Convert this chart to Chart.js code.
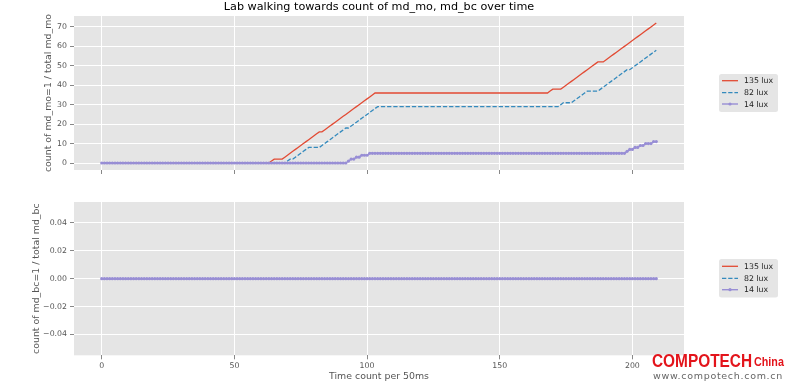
<!DOCTYPE html>
<html><head><meta charset="utf-8">
<script src="https://cdn.jsdelivr.net/npm/chart.js@4.4.0/dist/chart.umd.min.js"></script>
<style>
html,body{margin:0;padding:0;background:#fff;}
#wrap{position:relative;width:791px;height:391px;overflow:hidden;background:#fff;}
canvas{position:absolute;left:0;}
#c1{top:0;}
#c2{top:190px;}
.wm{position:absolute;font-family:'Liberation Sans',sans-serif;font-weight:bold;color:#e3141b;white-space:nowrap;transform-origin:left top;}
.wmA{left:652px;top:350.5px;font-size:18px;transform:scaleX(0.855);}
.wmB{left:754px;top:354.7px;font-size:12.5px;transform:scaleX(0.86);}
.wm2{position:absolute;left:653px;top:370px;font-family:'DejaVu Sans',sans-serif;font-size:9.5px;color:#666;white-space:nowrap;letter-spacing:0.7px;}
</style></head><body>
<div id="wrap">
<canvas id="c1" width="791" height="190"></canvas>
<canvas id="c2" width="791" height="201"></canvas>
<div class="wm wmA">COMPOTECH</div>
<div class="wm wmB">China</div>
<div class="wm2">www.compotech.com.cn</div>
</div>
<script>
// ---------- DATA ----------
const seriesNames = ['135 lux', '82 lux', '14 lux'];
const titleText = 'Lab walking towards count of md_mo, md_bc over time';
const xTitle = 'Time count per 50ms';
const yTitleTop = 'count of md_mo=1 / total md_mo';
const yTitleBottom = 'count of md_bc=1 / total md_bc';

const xTickValues = [0, 50, 100, 150, 200];
const xTickLabels = ['0', '50', '100', '150', '200'];
const yTickValuesTop = [0, 10, 20, 30, 40, 50, 60, 70];
const yTickLabelsTop = ['0', '10', '20', '30', '40', '50', '60', '70'];
const yTickValuesBottom = [-0.04, -0.02, 0, 0.02, 0.04];
const yTickLabelsBottom = ['\u22120.04', '\u22120.02', '0.00', '0.02', '0.04'];

// md_mo counts (top panel), one value per time step 0..209
const mo135 = [
0,0,0,0,0,0,0,0,0,0, 0,0,0,0,0,0,0,0,0,0, 0,0,0,0,0,0,0,0,0,0,
0,0,0,0,0,0,0,0,0,0, 0,0,0,0,0,0,0,0,0,0, 0,0,0,0,0,0,0,0,0,0,
0,0,0,0,
1,2,2,2,2,
3,4,5,6,7,8,9,10,11,12,13,14,15,16,
16,
17,18,19,20,21,22,23,24,25,26,27,28,29,30,31,32,33,34,35,36,
36,36,36,36,36,36,36,36,36,36, 36,36,36,36,36,36,36,36,36,36,
36,36,36,36,36,36,36,36,36,36, 36,36,36,36,36,36,36,36,36,36,
36,36,36,36,36,36,36,36,36,36, 36,36,36,36,36,36,36,36,36,36,
36,36,36,36,36,
37,38,38,38,38,
39,40,41,42,43,44,45,46,47,48,49,50,51,52,
52,52,
53,54,55,56,57,58,59,60,61,62,63,64,65,66,67,68,69,70,71,72
];
const mo82 = [
0,0,0,0,0,0,0,0,0,0, 0,0,0,0,0,0,0,0,0,0, 0,0,0,0,0,0,0,0,0,0,
0,0,0,0,0,0,0,0,0,0, 0,0,0,0,0,0,0,0,0,0, 0,0,0,0,0,0,0,0,0,0,
0,0,0,0,0,0,0,0,0,0,
1,2,2,
3,4,5,6,7,8,
8,8,8,8,
9,10,11,12,13,14,15,16,17,18,
18,
19,20,21,22,23,24,25,26,27,28,29,
29,29,29,29,29,29,29,29,29,29, 29,29,29,29,29,29,29,29,29,29,
29,29,29,29,29,29,29,29,29,29, 29,29,29,29,29,29,29,29,29,29,
29,29,29,29,29,29,29,29,29,29, 29,29,29,29,29,29,29,29,29,29,
29,29,29,29,29,29,29,29,
30,31,
31,31,31,
32,33,34,35,36,37,
37,37,37,37,
38,39,40,41,42,43,44,45,46,47,48,
48,
49,50,51,52,53,54,55,56,57,58
];
const mo14 = [
0,0,0,0,0,0,0,0,0,0, 0,0,0,0,0,0,0,0,0,0, 0,0,0,0,0,0,0,0,0,0,
0,0,0,0,0,0,0,0,0,0, 0,0,0,0,0,0,0,0,0,0, 0,0,0,0,0,0,0,0,0,0,
0,0,0,0,0,0,0,0,0,0, 0,0,0,0,0,0,0,0,0,0, 0,0,0,0,0,0,0,0,0,0,
0,0,0,
1,2,2,3,3,4,4,4,
5,5,5,5,5,5,5,5,5,5, 5,5,5,5,5,5,5,5,5,5, 5,5,5,5,5,5,5,5,5,5,
5,5,5,5,5,5,5,5,5,5, 5,5,5,5,5,5,5,5,5,5, 5,5,5,5,5,5,5,5,5,5,
5,5,5,5,5,5,5,5,5,5, 5,5,5,5,5,5,5,5,5,5, 5,5,5,5,5,5,5,5,5,5,
5,5,5,5,5,5,5,
6,7,7,8,8,9,9,10,10,10,11,11
];
// md_bc counts (bottom panel)
const bc135 = [
0,0,0,0,0,0,0,0,0,0, 0,0,0,0,0,0,0,0,0,0, 0,0,0,0,0,0,0,0,0,0,
0,0,0,0,0,0,0,0,0,0, 0,0,0,0,0,0,0,0,0,0, 0,0,0,0,0,0,0,0,0,0,
0,0,0,0,0,0,0,0,0,0, 0,0,0,0,0,0,0,0,0,0, 0,0,0,0,0,0,0,0,0,0,
0,0,0,0,0,0,0,0,0,0, 0,0,0,0,0,0,0,0,0,0, 0,0,0,0,0,0,0,0,0,0,
0,0,0,0,0,0,0,0,0,0, 0,0,0,0,0,0,0,0,0,0, 0,0,0,0,0,0,0,0,0,0,
0,0,0,0,0,0,0,0,0,0, 0,0,0,0,0,0,0,0,0,0, 0,0,0,0,0,0,0,0,0,0,
0,0,0,0,0,0,0,0,0,0, 0,0,0,0,0,0,0,0,0,0, 0,0,0,0,0,0,0,0,0,0
];
const bc82 = [
0,0,0,0,0,0,0,0,0,0, 0,0,0,0,0,0,0,0,0,0, 0,0,0,0,0,0,0,0,0,0,
0,0,0,0,0,0,0,0,0,0, 0,0,0,0,0,0,0,0,0,0, 0,0,0,0,0,0,0,0,0,0,
0,0,0,0,0,0,0,0,0,0, 0,0,0,0,0,0,0,0,0,0, 0,0,0,0,0,0,0,0,0,0,
0,0,0,0,0,0,0,0,0,0, 0,0,0,0,0,0,0,0,0,0, 0,0,0,0,0,0,0,0,0,0,
0,0,0,0,0,0,0,0,0,0, 0,0,0,0,0,0,0,0,0,0, 0,0,0,0,0,0,0,0,0,0,
0,0,0,0,0,0,0,0,0,0, 0,0,0,0,0,0,0,0,0,0, 0,0,0,0,0,0,0,0,0,0,
0,0,0,0,0,0,0,0,0,0, 0,0,0,0,0,0,0,0,0,0, 0,0,0,0,0,0,0,0,0,0
];
const bc14 = [
0,0,0,0,0,0,0,0,0,0, 0,0,0,0,0,0,0,0,0,0, 0,0,0,0,0,0,0,0,0,0,
0,0,0,0,0,0,0,0,0,0, 0,0,0,0,0,0,0,0,0,0, 0,0,0,0,0,0,0,0,0,0,
0,0,0,0,0,0,0,0,0,0, 0,0,0,0,0,0,0,0,0,0, 0,0,0,0,0,0,0,0,0,0,
0,0,0,0,0,0,0,0,0,0, 0,0,0,0,0,0,0,0,0,0, 0,0,0,0,0,0,0,0,0,0,
0,0,0,0,0,0,0,0,0,0, 0,0,0,0,0,0,0,0,0,0, 0,0,0,0,0,0,0,0,0,0,
0,0,0,0,0,0,0,0,0,0, 0,0,0,0,0,0,0,0,0,0, 0,0,0,0,0,0,0,0,0,0,
0,0,0,0,0,0,0,0,0,0, 0,0,0,0,0,0,0,0,0,0, 0,0,0,0,0,0,0,0,0,0
];

// ---------- STYLE / LAYOUT ----------
const FONT = 'DejaVu Sans';
const COLORS = ['#E24A33', '#348ABD', '#988ED5'];
const X_MIN = -10.45, X_MAX = 219.45;

const toPts = arr => arr.map((y, i) => ({x: i, y: y}));

function makeDatasets(a, b, c) {
  return [
    {label: seriesNames[0], data: toPts(a), borderColor: COLORS[0], backgroundColor: COLORS[0],
     borderWidth: 1.3, pointRadius: 0, order: 2},
    {label: seriesNames[1], data: toPts(b), borderColor: COLORS[1], backgroundColor: COLORS[1],
     borderWidth: 1.3, borderDash: [4.3, 1.9], pointRadius: 0, order: 1},
    {label: seriesNames[2], data: toPts(c), borderColor: COLORS[2], backgroundColor: COLORS[2],
     borderWidth: 1.4, pointRadius: 1.6, pointBorderWidth: 0, pointBackgroundColor: COLORS[2], order: 0}
  ];
}

const bgPlugin = {
  id: 'axesBg',
  beforeDraw(chart) {
    const {ctx, chartArea: a} = chart;
    ctx.save();
    ctx.fillStyle = '#E5E5E5';
    ctx.fillRect(a.left, a.top, a.right - a.left, a.bottom - a.top);
    ctx.restore();
  }
};

const mplLegend = {
  id: 'mplLegend',
  afterDraw(chart, args, o) {
    const ctx = chart.ctx;
    ctx.save();
    ctx.fillStyle = '#E5E5E5';
    ctx.beginPath();
    ctx.roundRect(o.x, o.y, o.w, o.h, 2.5);
    ctx.fill();
    chart.data.datasets.forEach((ds, i) => {
      const ry = o.rows[i];
      ctx.strokeStyle = ds.borderColor;
      ctx.lineWidth = ds.borderWidth;
      ctx.setLineDash(ds.borderDash || []);
      ctx.beginPath();
      ctx.moveTo(o.x + 3, ry);
      ctx.lineTo(o.x + 19, ry);
      ctx.stroke();
      ctx.setLineDash([]);
      if (ds.pointRadius > 0) {
        ctx.fillStyle = ds.borderColor;
        ctx.beginPath();
        ctx.arc(o.x + 11, ry, ds.pointRadius, 0, Math.PI * 2);
        ctx.fill();
      }
      ctx.fillStyle = '#222';
      ctx.font = '7.8px "' + FONT + '"';
      ctx.textBaseline = 'middle';
      ctx.textAlign = 'left';
      ctx.fillText(ds.label, o.x + 25, ry + 0.5);
    });
    ctx.restore();
  }
};

function xScale(showLabels, height) {
  return {
    type: 'linear', min: X_MIN, max: X_MAX,
    afterBuildTicks(s) { s.ticks = xTickValues.map(v => ({value: v})); },
    afterFit(s) { s.height = height; },
    grid: {color: '#FFFFFF', lineWidth: 1, drawTicks: true, tickLength: 4, tickColor: '#888', tickWidth: 1},
    border: {display: false},
    ticks: {display: showLabels, font: {family: FONT, size: 7.8}, color: '#555', padding: 1.5,
            maxRotation: 0, autoSkip: false, callback: (v, i) => xTickLabels[i]},
    title: {display: showLabels, text: xTitle, font: {family: FONT, size: 9.4}, color: '#555',
            padding: {top: 0, bottom: 8.7}}
  };
}

function yScale(min, max, vals, labels, title, titlePad) {
  return {
    type: 'linear', min: min, max: max,
    afterBuildTicks(s) { s.ticks = vals.map(v => ({value: v})); },
    afterFit(s) { s.width = 74; },
    grid: {color: '#FFFFFF', lineWidth: 1, drawTicks: true, tickLength: 4, tickColor: '#888', tickWidth: 1},
    border: {display: false},
    ticks: {font: {family: FONT, size: 7.8}, color: '#555', padding: 3, autoSkip: false,
            callback: (v, i) => labels[i]},
    title: {display: true, text: title, font: {family: FONT, size: 9.4}, color: '#555',
            padding: {top: titlePad, bottom: 0}}
  };
}

new Chart(document.getElementById('c1'), {
  type: 'line',
  data: {datasets: makeDatasets(mo135, mo82, mo14)},
  options: {
    responsive: false, animation: false, devicePixelRatio: 1,
    layout: {padding: {left: 0, right: 107, top: 0, bottom: 0}},
    scales: {
      x: xScale(false, 20),
      y: yScale(-3.6, 75.6, yTickValuesTop, yTickLabelsTop, yTitleTop, 43.4)
    },
    plugins: {
      legend: {display: false}, tooltip: {enabled: false},
      title: {display: true, text: titleText, fullSize: false, color: '#000',
              font: {family: FONT, size: 11.2, weight: 'normal'}, padding: {top: 0.6, bottom: 2}},
      mplLegend: {x: 719, y: 74, w: 59, h: 38, rows: [80.7, 92.7, 104]}
    }
  },
  plugins: [bgPlugin, mplLegend]
});

new Chart(document.getElementById('c2'), {
  type: 'line',
  data: {datasets: makeDatasets(bc135, bc82, bc14)},
  options: {
    responsive: false, animation: false, devicePixelRatio: 1,
    layout: {padding: {left: 0, right: 107, top: 12, bottom: 0}},
    scales: {
      x: xScale(true, 35.7),
      y: yScale(-0.055, 0.055, yTickValuesBottom, yTickLabelsBottom, yTitleBottom, 31.4)
    },
    plugins: {
      legend: {display: false}, tooltip: {enabled: false},
      mplLegend: {x: 719, y: 69, w: 59, h: 38.5, rows: [76.3, 88.3, 99.7]}
    }
  },
  plugins: [bgPlugin, mplLegend]
});
</script>
</body></html>
